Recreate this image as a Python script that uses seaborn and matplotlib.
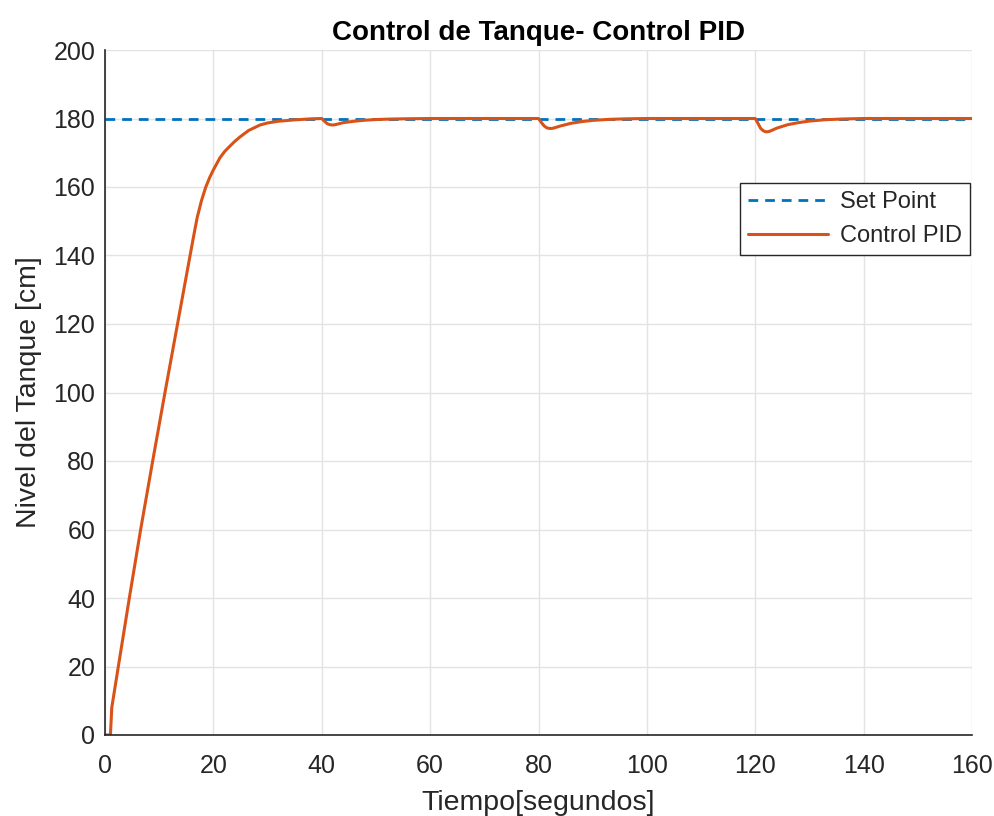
import matplotlib
matplotlib.use("Agg")
import matplotlib.pyplot as plt
import seaborn as sns
import pandas as pd

# ---- data ----
setpoint_t = [0, 160]
setpoint_v = [180, 180]

pid_t = [0, 1.0, 1.25, 2.46, 4.49, 6.58, 8.8, 11.07, 13.5, 15.7, 16.4, 17.0, 17.8, 18.6, 19.3,
         20, 21.2, 22.1, 23.1, 24.0, 24.9, 26.5, 28.6, 30, 32, 35, 38, 40,
         40.5, 41, 41.5, 42, 42.5, 43, 44, 46, 48, 50, 53, 56, 60, 70, 80,
         80.5, 81, 81.5, 82, 82.5, 83, 84, 86, 88, 90, 93, 96, 100, 110, 120,
         120.5, 121, 121.5, 122, 122.5, 123, 124, 126, 128, 130, 133, 136, 140, 150, 160]
pid_v = [0, 0, 8, 20, 40, 60, 80, 100, 121, 140, 146, 151, 156, 160, 162.7,
         165, 168.5, 170.4, 172, 173.4, 174.6, 176.5, 178.1, 178.7, 179.2, 179.6, 179.9, 180,
         179.2, 178.5, 178.2, 178.1, 178.2, 178.4, 178.8, 179.2, 179.5, 179.7, 179.85, 179.93, 180, 180, 180,
         178.9, 177.9, 177.3, 177.1, 177.1, 177.3, 177.8, 178.6, 179.1, 179.45, 179.75, 179.9, 180, 180, 180,
         178.6, 177.1, 176.4, 176.1, 176.2, 176.5, 177.2, 178.2, 178.8, 179.25, 179.65, 179.85, 180, 180, 180]

x_ticks = [0, 20, 40, 60, 80, 100, 120, 140, 160]
y_ticks = [0, 20, 40, 60, 80, 100, 120, 140, 160, 180, 200]

sns.set_theme(style="white")
plt.rcParams['font.family'] = ['Liberation Sans', 'DejaVu Sans']

fig = plt.figure(figsize=(9.95, 8.16), dpi=100)
ax = fig.add_axes([105/995, 1-735/816, (972-105)/995, (735-50)/816])

df_sp = pd.DataFrame({"t": setpoint_t, "v": setpoint_v})
df_pid = pd.DataFrame({"t": pid_t, "v": pid_v})

sns.lineplot(data=df_sp, x="t", y="v", ax=ax, color="#0072BD", lw=2,
             linestyle=(0, (3.5, 2.5)), label="Set Point")
sns.lineplot(data=df_pid, x="t", y="v", ax=ax, color="#D95319", lw=2.2,
             label="Control PID")

ax.set_xlim(0, 160)
ax.set_ylim(0, 200)
ax.set_xticks(x_ticks)
ax.set_yticks(y_ticks)
ax.grid(True, color="#e3e3e3", lw=1)
ax.set_axisbelow(True)

for s in ["top", "right"]:
    ax.spines[s].set_visible(False)
for s in ["left", "bottom"]:
    ax.spines[s].set_color("#262626")
    ax.spines[s].set_linewidth(1.2)

ax.tick_params(axis="x", direction="in", length=7, width=1.2, color="#262626",
               labelsize=18, labelcolor="#262626", pad=14)
ax.tick_params(axis="y", direction="in", length=7, width=1.2, color="#262626",
               labelsize=18, labelcolor="#262626", pad=7)

ax.set_xlabel("Tiempo[segundos]", fontsize=20.5, color="#262626", labelpad=8)
ax.set_ylabel("Nivel del Tanque [cm]", fontsize=20.5, color="#262626", labelpad=8)
ax.set_title("Control de Tanque- Control PID", fontsize=20, fontweight="bold",
             color="black", pad=7)

leg = ax.legend(loc="upper right", bbox_to_anchor=(0.998, 0.806), fontsize=17,
                frameon=True, fancybox=False, framealpha=1, edgecolor="#262626",
                handlelength=3.4, borderpad=0.35, labelspacing=0.5, handletextpad=0.5,
                borderaxespad=0)
leg.get_frame().set_linewidth(1.0)

fig.savefig("out.png", dpi=100, facecolor="white")
